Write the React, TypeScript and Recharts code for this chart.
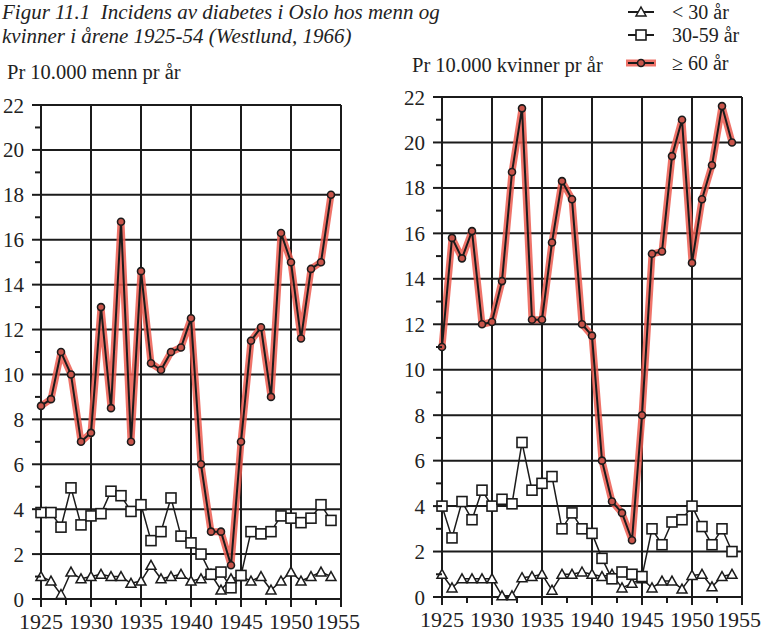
import React from 'react'
import { LineChart, Line, XAxis, YAxis, ReferenceLine } from 'recharts'

const years = [
  1925, 1926, 1927, 1928, 1929, 1930, 1931, 1932, 1933, 1934,
  1935, 1936, 1937, 1938, 1939, 1940, 1941, 1942, 1943, 1944,
  1945, 1946, 1947, 1948, 1949, 1950, 1951, 1952, 1953, 1954,
]

// menn
const menUnder30 = [
  1.0, 0.8, 0.2, 1.2, 0.9, 1.0, 1.1, 1.0, 1.0, 0.7,
  0.8, 1.5, 0.9, 1.0, 1.1, 0.8, 0.9, 1.1, 0.4, 0.9,
  1.0, 0.8, 1.0, 0.4, 0.8, 1.2, 0.8, 1.0, 1.2, 1.0,
]
const men30to59 = [
  3.85, 3.85, 3.2, 4.95, 3.3, 3.7, 3.8, 4.8, 4.6, 3.9,
  4.2, 2.6, 3.0, 4.5, 2.8, 2.5, 2.0, 1.1, 1.2, 0.5,
  1.05, 3.0, 2.9, 3.0, 3.7, 3.6, 3.4, 3.6, 4.2, 3.5,
]
const men60plus = [
  8.6, 8.9, 11.0, 10.0, 7.0, 7.4, 13.0, 8.5, 16.8, 7.0,
  14.6, 10.5, 10.2, 11.0, 11.2, 12.5, 6.0, 3.0, 3.0, 1.5,
  7.0, 11.5, 12.1, 9.0, 16.3, 15.0, 11.6, 14.7, 15.0, 18.0,
]

// kvinner
const womenUnder30 = [
  1.0, 0.4, 0.8, 0.8, 0.8, 0.8, 0.05, 0.05, 0.85, 0.9,
  1.0, 0.3, 1.0, 1.0, 1.1, 1.0, 0.9, 1.0, 0.4, 0.6,
  0.8, 0.4, 0.7, 0.7, 0.35, 0.95, 1.0, 0.45, 0.9, 1.0,
]
const women30to59 = [
  4.0, 2.6, 4.2, 3.4, 4.7, 4.0, 4.3, 4.1, 6.8, 4.7,
  5.0, 5.3, 3.0, 3.7, 3.0, 2.8, 1.7, 0.8, 1.1, 1.0,
  0.9, 3.0, 2.3, 3.3, 3.4, 4.0, 3.1, 2.3, 3.0, 2.0,
]
const women60plus = [
  11.0, 15.8, 14.9, 16.1, 12.0, 12.1, 13.9, 18.7, 21.5, 12.2,
  12.2, 15.6, 18.3, 17.5, 12.0, 11.5, 6.0, 4.2, 3.7, 2.5,
  8.0, 15.1, 15.2, 19.4, 21.0, 14.7, 17.5, 19.0, 21.6, 20.0,
]

const xTicks = [1925, 1927.5, 1930, 1932.5, 1935, 1937.5, 1940, 1942.5, 1945, 1947.5, 1950, 1952.5, 1955]
const yTicks = [0, 1, 2, 3, 4, 5, 6, 7, 8, 9, 10, 11, 12, 13, 14, 15, 16, 17, 18, 19, 20, 21, 22]
const gridX = [1930, 1935, 1940, 1945, 1950, 1955]
const gridY = [2, 4, 6, 8, 10, 12, 14, 16, 18, 20, 22]

const FONT = '"Liberation Serif", "DejaVu Serif", serif'
const INK = '#1b1b1b'
const RED = '#ec5a4f'

const makeRows = (a: number[], b: number[], c: number[]) =>
  years.map((year, i) => ({ year, under30: a[i], mid: b[i], over60: c[i] }))

const menData = makeRows(menUnder30, men30to59, men60plus)
const womenData = makeRows(womenUnder30, women30to59, women60plus)

const SquareDot = (props: any) => {
  const { cx, cy } = props
  if (cx == null || cy == null) return null
  return <rect x={cx - 5} y={cy - 5} width={10} height={10} fill="#fff" stroke={INK} strokeWidth={1.6} />
}

const TriangleDot = (props: any) => {
  const { cx, cy } = props
  if (cx == null || cy == null) return null
  return (
    <polygon
      points={`${cx},${cy - 5} ${cx + 5},${cy + 4} ${cx - 5},${cy + 4}`}
      fill="#fff"
      stroke={INK}
      strokeWidth={1.5}
    />
  )
}

const RoundDot = (props: any) => {
  const { cx, cy } = props
  if (cx == null || cy == null) return null
  return <circle cx={cx} cy={cy} r={3.5} fill="#c9544a" stroke={INK} strokeWidth={1.6} />
}

const YTick = (props: any) => {
  const { x, y, payload } = props
  const major = payload.value % 2 === 0
  return (
    <g>
      <line x1={x - (major ? 9 : 6)} x2={x} y1={y} y2={y} stroke={INK} strokeWidth={2} />
      {major && (
        <text x={x - 17} y={y} dy="0.36em" textAnchor="end" fontSize={21} fontFamily={FONT} fill="#222">
          {payload.value}
        </text>
      )}
    </g>
  )
}

const XTick = (props: any) => {
  const { x, y, payload } = props
  const major = payload.value % 5 === 0
  const last = payload.value === 1955
  return (
    <g>
      <line x1={x} x2={x} y1={y} y2={y + (major ? 8 : 6)} stroke={INK} strokeWidth={2} />
      {major && (
        <text
          x={last ? x + 19 : x}
          y={y + 22}
          dy="0.36em"
          textAnchor={last ? 'end' : 'middle'}
          fontSize={22}
          fontFamily={FONT}
          fill="#222"
        >
          {payload.value}
        </text>
      )}
    </g>
  )
}

type PanelProps = {
  data: any[]
  left: number
  width: number
  top: number
  right: number
  yAxisWidth: number
  xAxisHeight: number
}

const Panel = ({ data, left, width, top, right, yAxisWidth, xAxisHeight }: PanelProps) => (
  <div style={{ position: 'absolute', left, top: 0 }}>
    <LineChart
      width={width}
      height={636}
      data={data}
      margin={{ top, right, bottom: 0, left: 0 }}
    >
      <XAxis
        dataKey="year"
        type="number"
        domain={[1925, 1955]}
        ticks={xTicks}
        interval={0}
        height={xAxisHeight}
        tickSize={0}
        tickMargin={0}
        tick={<XTick />}
        axisLine={{ stroke: INK, strokeWidth: 2 }}
      />
      <YAxis
        type="number"
        domain={[0, 22]}
        ticks={yTicks}
        interval={0}
        width={yAxisWidth}
        tickSize={0}
        tickMargin={0}
        tick={<YTick />}
        axisLine={{ stroke: INK, strokeWidth: 2 }}
      />
      {gridX.map((v) => (
        <ReferenceLine key={'x' + v} x={v} stroke={INK} strokeWidth={2} />
      ))}
      {gridY.map((v) => (
        <ReferenceLine key={'y' + v} y={v} stroke={INK} strokeWidth={2} />
      ))}
      <Line
        dataKey="over60"
        stroke={RED}
        strokeOpacity={0.85}
        strokeWidth={7}
        strokeLinejoin="round"
        dot={false}
        activeDot={false}
        isAnimationActive={false}
      />
      <Line
        dataKey="under30"
        stroke={INK}
        strokeWidth={1.5}
        dot={<TriangleDot />}
        activeDot={false}
        isAnimationActive={false}
      />
      <Line
        dataKey="mid"
        stroke={INK}
        strokeWidth={1.5}
        dot={<SquareDot />}
        activeDot={false}
        isAnimationActive={false}
      />
      <Line
        dataKey="over60"
        stroke={INK}
        strokeWidth={2}
        dot={<RoundDot />}
        activeDot={false}
        isAnimationActive={false}
      />
    </LineChart>
  </div>
)

const LegendRow = ({ y, label, kind }: { y: number; label: string; kind: string }) => (
  <div style={{ position: 'absolute', left: 624, top: y, height: 24, display: 'flex', alignItems: 'center' }}>
    <svg width={34} height={24}>
      {kind === 'over60' && <line x1={2} x2={32} y1={12} y2={12} stroke={RED} strokeWidth={7} strokeOpacity={0.85} />}
      <line x1={4} x2={30} y1={12} y2={12} stroke={INK} strokeWidth={2} />
      {kind === 'under30' && <TriangleDot cx={17} cy={12} />}
      {kind === 'mid' && <SquareDot cx={17} cy={12} />}
      {kind === 'over60' && <RoundDot cx={17} cy={12} />}
    </svg>
    <span style={{ marginLeft: 14, fontSize: 20, fontFamily: FONT, color: '#222' }}>{label}</span>
  </div>
)

export default function App() {
  return (
    <div style={{ position: 'absolute', left: 0, top: 0, width: 762, height: 636, background: '#fff', overflow: 'hidden', fontFamily: FONT }}>
      <div style={{ position: 'absolute', left: 2, top: 0, fontSize: 21, fontStyle: 'italic', lineHeight: '24px', color: '#222' }}>
        Figur 11.1&nbsp; Incidens av diabetes i Oslo hos menn og
        <br />
        kvinner i årene 1925-54 (Westlund, 1966)
      </div>
      <div style={{ position: 'absolute', left: 7, top: 61, fontSize: 20.5, color: '#222' }}>Pr 10.000 menn pr år</div>
      <div style={{ position: 'absolute', left: 412, top: 54, fontSize: 20.5, color: '#222' }}>Pr 10.000 kvinner pr år</div>
      <LegendRow y={0} label="< 30 år" kind="under30" />
      <LegendRow y={23} label="30-59 år" kind="mid" />
      <LegendRow y={51} label="≥ 60 år" kind="over60" />
      <Panel data={menData} left={0} width={380} top={105} right={39} yAxisWidth={41} xAxisHeight={37} />
      <Panel data={womenData} left={390} width={372} top={97} right={20} yAxisWidth={52} xAxisHeight={39} />
    </div>
  )
}
